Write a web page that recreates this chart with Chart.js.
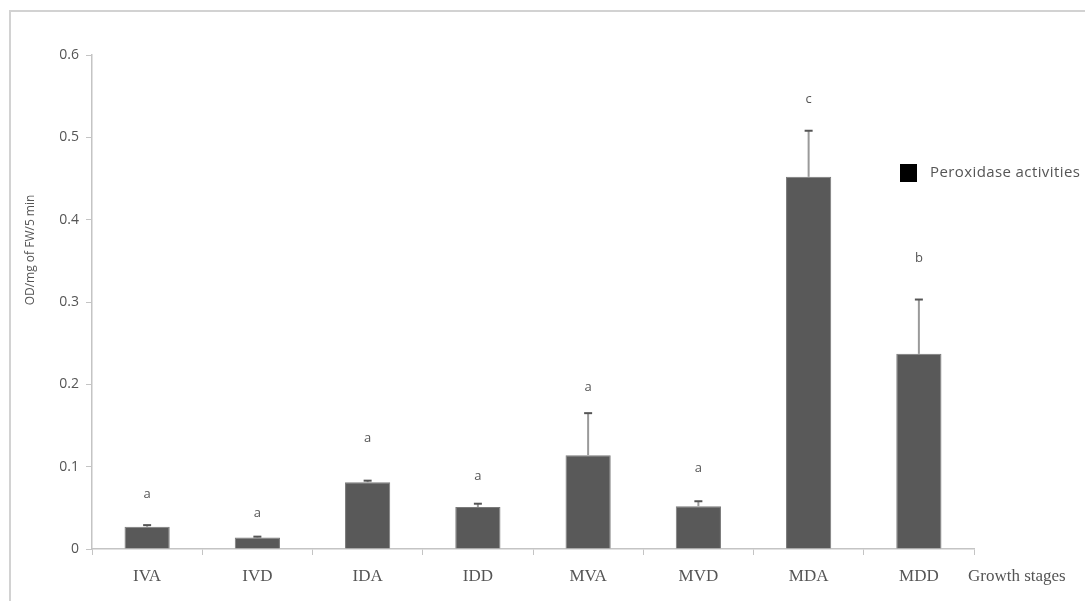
<!DOCTYPE html>
<html>
<head>
<meta charset="utf-8">
<script src="https://cdn.jsdelivr.net/npm/chart.js@4.4.1/dist/chart.umd.min.js"></script>
<style>
  html, body { margin: 0; padding: 0; background: #fff; }
  #wrap { position: absolute; left: 0; top: 0; width: 1085px; height: 601px; }
</style>
</head>
<body>
<div id="wrap"><canvas id="grafica" width="1085" height="601"></canvas></div>
<script>
const etapas = ["IVA", "IVD", "IDA", "IDD", "MVA", "MVD", "MDA", "MDD"]
const peroxidasa = [0.027, 0.014, 0.081, 0.051, 0.114, 0.052, 0.452, 0.237]
const errorSup = [0.029, 0.015, 0.083, 0.055, 0.165, 0.058, 0.508, 0.303]
const letras = ["a", "a", "a", "a", "a", "a", "c", "b"]
const letrasY = [0.066, 0.043, 0.134, 0.088, 0.196, 0.098, 0.546, 0.353]
const ticksY = [0, 0.1, 0.2, 0.3, 0.4, 0.5, 0.6]

const ctx = document.getElementById('grafica').getContext('2d')

// marco gris, barras de error, letras y leyenda
const extras = {
    id: 'extras',
    beforeDraw(chart) {
        const c = chart.ctx
        c.save()
        c.strokeStyle = '#d2d2d2'
        c.lineWidth = 2
        c.beginPath()
        c.moveTo(10, 601)
        c.lineTo(10, 11)
        c.lineTo(1085, 11)
        c.stroke()
        c.restore()
    },
    afterDatasetsDraw(chart) {
        const c = chart.ctx
        const y = chart.scales.y
        const meta = chart.getDatasetMeta(0)
        c.save()
        meta.data.forEach((bar, i) => {
            const px = bar.x
            const top = y.getPixelForValue(peroxidasa[i])
            const sup = y.getPixelForValue(errorSup[i])
            c.strokeStyle = '#9a9a9a'
            c.lineWidth = 2
            c.beginPath()
            c.moveTo(px, top)
            c.lineTo(px, sup)
            c.stroke()
            c.strokeStyle = '#555'
            c.beginPath()
            c.moveTo(px - 4, sup)
            c.lineTo(px + 4, sup)
            c.stroke()

            c.fillStyle = '#555'
            c.font = '13px "Open Sans"'
            c.textAlign = 'center'
            c.textBaseline = 'middle'
            c.fillText(letras[i], px, y.getPixelForValue(letrasY[i]))
        })

        // leyenda
        c.fillStyle = '#000'
        c.fillRect(900, 164, 17, 18)
        c.fillStyle = '#555'
        c.font = '15px "Open Sans"'
        c.letterSpacing = '0.4px'
        c.textAlign = 'left'
        c.textBaseline = 'middle'
        c.fillText(chart.data.datasets[0].label, 930, 173)
        c.letterSpacing = '0px'

        // titulo eje x
        c.font = '17px "Liberation Serif"'
        c.fillText("Growth stages", 968, 577)

        // titulo eje y
        c.translate(31, 250)
        c.rotate(-Math.PI / 2)
        c.textAlign = 'center'
        c.font = '12px "Open Sans"'
        c.fillText("OD/mg of FW/5 min", 0, 0)
        c.restore()
    }
}

new Chart(ctx, {
    type: 'bar',
    data: {
        labels: etapas,
        datasets: [{
            label: "Peroxidase activities",
            data: peroxidasa,
            backgroundColor: "#595959",
            borderColor: "#7a7a7a",
            borderWidth: 1,
            barPercentage: 0.41,
            categoryPercentage: 1
        }]
    },
    options: {
        responsive: false,
        animation: false,
        layout: { padding: { top: 55, right: 111, bottom: 0, left: 0 } },
        plugins: {
            legend: { display: false },
            tooltip: { enabled: false }
        },
        scales: {
            x: {
                afterFit(scale) { scale.height = 52 },
                border: { color: '#c4c4c4', width: 1.5 },
                grid: { drawOnChartArea: false, color: '#c4c4c4', tickLength: 6, offset: true },
                ticks: {
                    color: '#555',
                    padding: 11,
                    font: { family: 'Liberation Serif', size: 17 }
                }
            },
            y: {
                min: 0,
                max: 0.6,
                afterFit(scale) { scale.width = 92 },
                afterBuildTicks(scale) { scale.ticks = ticksY.map(v => ({ value: v })) },
                border: { color: '#c4c4c4', width: 1.5 },
                grid: { drawOnChartArea: false, color: '#c4c4c4', tickLength: 6 },
                ticks: {
                    color: '#555',
                    padding: 7,
                    font: { family: 'Open Sans', size: 14 },
                    callback: v => String(v)
                }
            }
        }
    },
    plugins: [extras]
});
</script>
</body>
</html>
